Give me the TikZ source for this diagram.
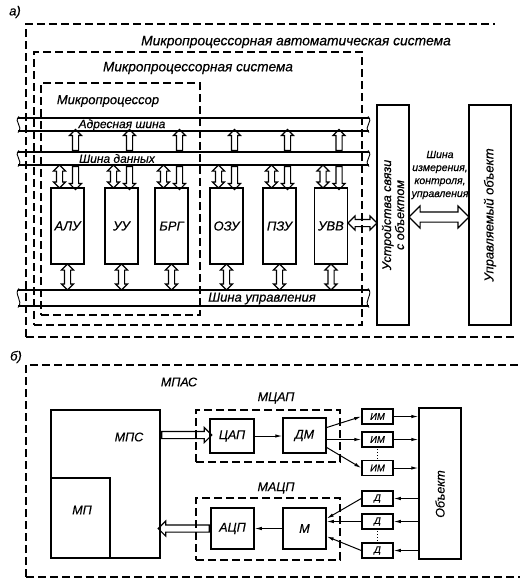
\documentclass[tikz,border=0pt]{standalone}
\usepackage{fontspec}
\setmainfont{Liberation Sans}[ItalicFeatures={FakeBold=0.4}]
\usetikzlibrary{shapes.arrows,arrows.meta,calc}
\begin{document}
\begin{tikzpicture}[x=1pt,y=-1pt,
  lw/.style={line width=1.3pt},
  dbox/.style={draw, line width=1.2pt, dash pattern=on 8pt off 4pt},
  fs/.style={font=\fontsize{#1}{#1}\selectfont\itshape, inner sep=0pt},
  blk/.style={draw, line width=1.5pt, minimum width=33pt, minimum height=76pt, inner sep=0pt, fs=13},
  sbox/.style={draw, line width=1.5pt, inner sep=0pt},
  sav/.style={draw, line width=1.1pt, single arrow, single arrow head extend=3pt, single arrow head indent=0pt, inner xsep=0pt, inner ysep=2.5pt, minimum height=#1},
  dav/.style={draw, line width=1.1pt, double arrow, double arrow head extend=3pt, double arrow head indent=0pt, inner xsep=0pt, inner ysep=2.5pt, minimum height=#1},
  ar/.style={line width=1pt, -{Latex[length=7pt,width=3.5pt]}},
  brk/.style={line width=0.9pt},
]
\useasboundingbox (0,0) rectangle (527,582);

% ================= a) =================
\node[fs=13] (la) at (15,12) {а)};

% dashed frames
\draw[dbox] (26,337) -- (26,24) -- (495,24);
\draw[dbox] (26,337) -- (517,337);
\node[dbox, minimum width=328pt, minimum height=273pt, inner sep=0pt] (mps) at (198,188.5) {};
\node[dbox, minimum width=159pt, minimum height=232pt, inner sep=0pt] (mp) at (120.5,199) {};
\node[fs=13.8] (t1) at (296,42) {Микропроцессорная автоматическая система};
\node[fs=13.6] (t2) at (198,68) {Микропроцессорная система};
\node[fs=13] (t3) at (108,101) {Микропроцессор};

% buses
\foreach \yt/\yb in {118/131, 152/165, 290/306}{
  \draw[lw] (18,\yt) -- (369,\yt) (18,\yb) -- (369,\yb);
  \draw[brk] (19,\yt-1.5) .. controls (13,\yt+4) and (24,\yb-5) .. (18,\yb+1.5);
  \draw[brk] (368,\yt-1.5) .. controls (374,\yt+4) and (363,\yb-5) .. (369,\yb+1.5);
}
\node[fs=12] (ba) at (122,125) {Адресная шина};
\node[fs=12] (bd) at (117,158.5) {Шина данных};
\node[fs=13] (bc) at (262,298.5) {Шина управления};

% blocks
\node[blk] (alu) at (67.5,226) {АЛУ};
\node[blk] (uu)  at (121.5,226) {УУ};
\node[blk] (brg) at (171.5,226) {БРГ};
\node[blk] (ozu) at (226.5,226) {ОЗУ};
\node[blk] (pzu) at (279.5,226) {ПЗУ};
\node[blk] (uvv) at (331,226) {УВВ};

% bus arrows
\foreach \c [count=\i] in {67.5,121.5,171.5,226.5,279.5,331}{
  \node[sav=21pt, rotate=90] (aa\i) at ({\c+8},141.5) {};
  \node[dav=23pt, rotate=90] (db\i) at ({\c-8},176.5) {};
  \node[sav=23pt, rotate=-90] (da\i) at ({\c+8},176.5) {};
  \node[dav=26pt, rotate=90] (cb\i) at (\c,277) {};
}

% object side
\node[sbox, minimum width=32pt, minimum height=220pt] (uso) at (393,215) {};
\node[rotate=90, align=center, inner sep=0pt, font=\fontsize{12.5}{13}\selectfont\itshape] (usot) at (uso.center) {Устройства связи\\с объектом};
\node[sbox, minimum width=42pt, minimum height=220pt] (uo) at (490,215) {};
\node[fs=13, rotate=90] (uot) at (uo.center) {Управляемый объект};

\node[dav=29pt, double arrow head extend=3.5pt, inner ysep=3pt] (uvvarr) at (362.5,223) {};
\node[dav=60pt, double arrow head extend=6pt, inner ysep=4.5pt] (bigarr) at (439,217) {};
\node[align=center, inner sep=0pt, font=\fontsize{10.5}{13}\selectfont\itshape] (bit) at (440,175) {Шина\\измерения,\\контроля,\\управления};

% ================= б) =================
\node[fs=13] (lb) at (16,357) {б)};
\draw[dbox] (26,577) -- (26,365) -- (520,365);
\draw[dbox] (26,577) -- (520,577);
\node[fs=12.5] (mpas) at (179,382) {МПАС};

\node[sbox, minimum width=109pt, minimum height=148pt] (mpsb) at (105.5,484) {};
\node[sbox, minimum width=59pt, minimum height=80pt] (mpb) at (80.5,518) {};
\node[fs=12.5] (mpst) at (129,437) {МПС};
\node[fs=12.5] (mpt) at (82,510) {МП};

\node[dbox, minimum width=144pt, minimum height=52pt, inner sep=0pt] (mcap) at (268,436) {};
\node[fs=12.5] (mcapt) at (276,398) {МЦАП};
\node[dbox, minimum width=144pt, minimum height=62pt, inner sep=0pt] (macp) at (268,529) {};
\node[fs=12.5] (macpt) at (276,488) {МАЦП};

\node[sbox, minimum width=44pt, minimum height=34pt, fs=12.5] (cap) at (232,436) {ЦАП};
\node[sbox, minimum width=43pt, minimum height=35pt, fs=12.5] (dm) at (304.5,435.5) {ДМ};
\node[sbox, minimum width=43pt, minimum height=41pt, fs=12.5] (acp) at (232.5,528.5) {АЦП};
\node[sbox, minimum width=43pt, minimum height=41pt, fs=12.5] (m) at (304.5,528.5) {М};

\node[sbox, minimum width=31pt, minimum height=15pt, fs=9.5] (im1) at (377.5,416.5) {ИМ};
\node[sbox, minimum width=31pt, minimum height=15pt, fs=9.5] (im2) at (377.5,439.5) {ИМ};
\node[sbox, minimum width=31pt, minimum height=15pt, fs=9.5] (im3) at (377.5,468) {ИМ};
\node[sbox, minimum width=31pt, minimum height=15pt, fs=9.5] (d1) at (377.5,498.5) {Д};
\node[sbox, minimum width=31pt, minimum height=15pt, fs=9.5] (d2) at (377.5,521.5) {Д};
\node[sbox, minimum width=31pt, minimum height=15pt, fs=9.5] (d3) at (377.5,550.5) {Д};
\node[sbox, minimum width=42pt, minimum height=151pt] (obj) at (440,483.5) {};
\node[fs=12.5, rotate=90] (objt) at (440,494) {Объект};

\draw[line width=1pt, dotted] (377.5,449) -- (377.5,459);
\draw[line width=1pt, dotted] (377.5,531) -- (377.5,541);

% hollow arrows
\node[sav=50pt, single arrow head extend=4pt, inner ysep=3pt] (a1) at (185,435) {};
\node[sav=51pt, single arrow head extend=4pt, inner ysep=3pt, rotate=180] (a2) at (185.5,528.5) {};

% thin arrows
\draw[ar] (cap.east) -- (cap.east -| dm.west);
\draw[ar] ($(dm.east)+(0,-8)$) -- (im1.west);
\draw[ar] (dm.east |- im2.west) -- (im2.west);
\draw[ar] ($(dm.east)+(0,12)$) -- (im3.west);
\foreach \n in {im1,im2,im3}{\draw[ar] (\n.east) -- (\n.east -| obj.west);}
\foreach \n in {d1,d2,d3}{\draw[ar] (\n.east -| obj.west) -- (\n.east);}
\draw[ar] (d1.west) -- ($(m.east)+(0,-10)$);
\draw[ar] (d2.west) -- (d2.west -| m.east);
\draw[ar] (d3.west) -- ($(m.east)+(0,8)$);
\draw[ar] (m.west) -- (m.west -| acp.east);
\end{tikzpicture}
\end{document}
